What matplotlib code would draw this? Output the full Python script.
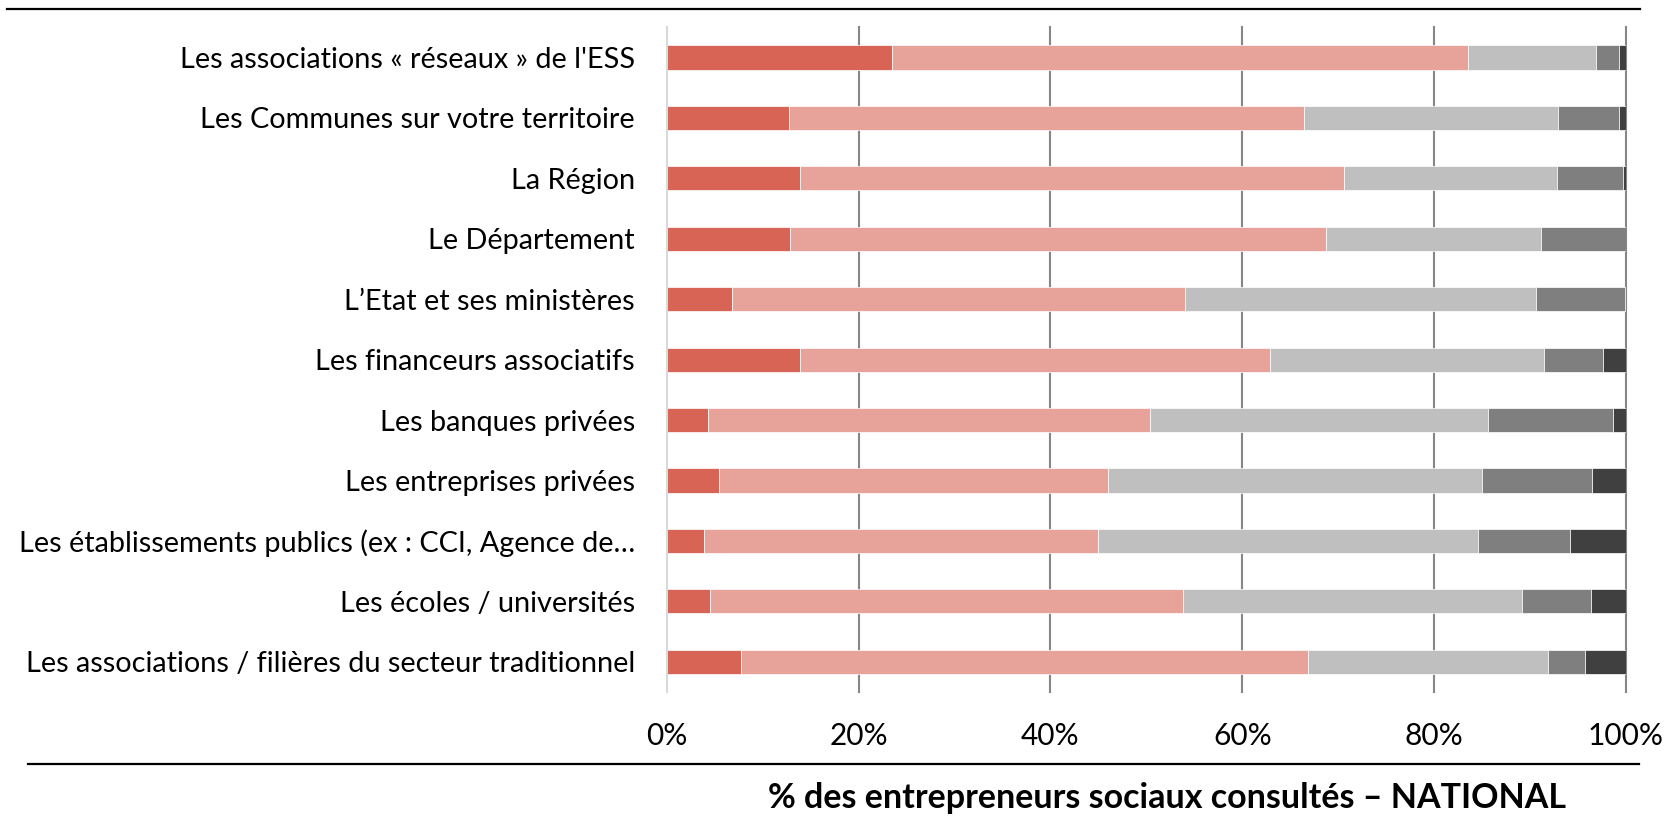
import matplotlib
matplotlib.use("Agg")
import matplotlib.pyplot as plt
from matplotlib.lines import Line2D
import numpy as np

plt.rcParams['font.family'] = ['Lato', 'DejaVu Sans']

categories = [
    "Les associations « réseaux » de l'ESS",
    "Les Communes sur votre territoire",
    "La Région",
    "Le Département",
    "L’Etat et ses ministères",
    "Les financeurs associatifs",
    "Les banques privées",
    "Les entreprises privées",
    "Les établissements publics (ex : CCI, Agence de…",
    "Les écoles / universités",
    "Les associations / filières du secteur traditionnel",
]

# Percent of respondents per answer level (levels stacked left to right)
niveau_1 = [23.5, 12.7, 13.9, 12.9, 6.8, 13.9, 4.3, 5.4, 3.9, 4.5, 7.7]
niveau_2 = [60.0, 53.7, 56.7, 55.8, 47.2, 49.0, 46.1, 40.6, 41.1, 49.3, 59.2]
niveau_3 = [13.4, 26.5, 22.2, 22.4, 36.6, 28.6, 35.2, 39.0, 39.6, 35.4, 25.0]
niveau_4 = [2.4, 6.4, 6.9, 8.9, 9.3, 6.1, 13.0, 11.5, 9.6, 7.1, 3.8]
niveau_5 = [0.7, 0.7, 0.3, 0.0, 0.1, 2.4, 1.4, 3.5, 5.8, 3.7, 4.3]

tick_values = [0, 20, 40, 60, 80, 100]
tick_labels = ["0%", "20%", "40%", "60%", "80%", "100%"]
title = "% des entrepreneurs sociaux consultés – NATIONAL"

colors = ["#D76455", "#E7A299", "#BFBFBF", "#7F7F7F", "#404040"]

W, H = 1669, 818
fig = plt.figure(figsize=(W / 100, H / 100), dpi=100)
ax = fig.add_axes([666.7 / W, 1 - 691.9 / H, (1626 - 666.7) / W, (691.9 - 27.3) / H])

y = np.arange(len(categories))
left = np.zeros(len(categories))
for vals, col in zip([niveau_1, niveau_2, niveau_3, niveau_4, niveau_5], colors):
    vals = np.asarray(vals)
    ax.barh(y, vals, left=left, height=0.4, color=col, edgecolor="white",
            linewidth=0.5, zorder=3)
    left += vals

ax.set_xlim(0, 100)
ax.set_ylim(len(categories) - 0.5, -0.5)

# vertical gridlines
for t in tick_values[1:]:
    ax.axvline(t, color="#868686", linewidth=1.5, zorder=1, clip_on=False)

for s in ["top", "right", "bottom"]:
    ax.spines[s].set_visible(False)
ax.spines["left"].set_color("#D9D9D9")
ax.spines["left"].set_linewidth(1.5)
ax.spines["left"].set_zorder(4)

ax.set_xticks(tick_values)
ax.set_xticklabels(tick_labels)
ax.set_yticks(y)
ax.set_yticklabels(categories)
ax.tick_params(axis="x", length=0, pad=22, labelsize=21.5, colors="black")
ax.tick_params(axis="y", length=0, pad=23, labelsize=20.8, colors="black")

# horizontal rules above and below the chart
fig.add_artist(Line2D([7 / W, 1640 / W], [1 - 9 / H, 1 - 9 / H],
                      color="black", linewidth=1.6))
fig.add_artist(Line2D([28 / W, 1639 / W], [1 - 764.3 / H, 1 - 764.3 / H],
                      color="black", linewidth=1.6))

fig.text(1167 / W, 1 - 798 / H, title, ha="center", va="center",
         fontsize=24.5, fontweight="bold")

fig.savefig("out.png", dpi=100)
